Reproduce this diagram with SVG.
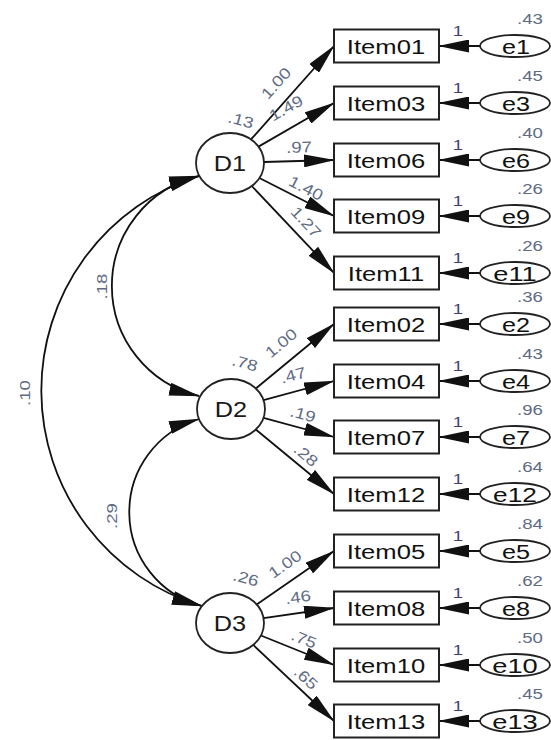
<svg xmlns="http://www.w3.org/2000/svg" width="551" height="740" viewBox="0 0 551 740">
  <defs>
    <marker id="ah" viewBox="0 0 31 13" refX="30" refY="6.5" markerWidth="31" markerHeight="13" markerUnits="userSpaceOnUse" orient="auto-start-reverse">
      <path d="M0,0 L31,6.5 L0,13 z" fill="#111"/>
    </marker>
    <style>
      .edge { fill: none; stroke: #111; stroke-width: 1.8; marker-end: url(#ah); }
      .cov { fill: none; stroke: #111; stroke-width: 1.8; marker-start: url(#ah); marker-end: url(#ah); }
      .box { fill: #fff; stroke: #222; stroke-width: 2; }
      .lat { fill: #fff; stroke: #222; stroke-width: 1.8; }
      .err { fill: #fff; stroke: #222; stroke-width: 1.8; }
      text { font-family: "Liberation Sans", Arial, sans-serif; text-anchor: middle; }
      .name { font-size: 21px; fill: #111; }
      .lname { font-size: 22px; fill: #1a1a1a; }
      .num { font-size: 15.5px; fill: #5f6b85; }
      .one { font-size: 15.5px; fill: #3f3f7a; }
    </style>
  </defs>

  <!-- paths, residual arrows and covariances -->
  <g id="connectors">
    <!-- D1 loadings -->
    <path class="edge" d="M251,139.4 L334,46"/>
    <path class="edge" d="M258.5,146.6 L334,103"/>
    <path class="edge" d="M264,162 L334,160"/>
    <path class="edge" d="M259.4,178 L334,216"/>
    <path class="edge" d="M251.8,186 L334,273"/>
    <!-- D2 loadings -->
    <path class="edge" d="M255.8,388.5 L334,324"/>
    <path class="edge" d="M263.5,400.2 L334,381"/>
    <path class="edge" d="M263.5,417.8 L334,437"/>
    <path class="edge" d="M255.8,429.5 L334,494"/>
    <!-- D3 loadings -->
    <path class="edge" d="M256.7,604.5 L334,551"/>
    <path class="edge" d="M263.6,618.2 L334,608"/>
    <path class="edge" d="M260.9,635.5 L334,665"/>
    <path class="edge" d="M253.2,644.9 L334,721"/>
    <!-- residuals -->
    <path class="edge" d="M480,46 L439,46"/>
    <path class="edge" d="M480,103 L439,103"/>
    <path class="edge" d="M480,160 L439,160"/>
    <path class="edge" d="M480,216 L439,216"/>
    <path class="edge" d="M480,273 L439,273"/>
    <path class="edge" d="M480,324 L439,324"/>
    <path class="edge" d="M480,381 L439,381"/>
    <path class="edge" d="M480,437 L439,437"/>
    <path class="edge" d="M480,494 L439,494"/>
    <path class="edge" d="M480,551 L439,551"/>
    <path class="edge" d="M480,608 L439,608"/>
    <path class="edge" d="M480,665 L439,665"/>
    <path class="edge" d="M480,721 L439,721"/>
    <!-- covariances -->
    <path class="cov" d="M199,176 A113,113 0 0,0 199,396"/>
    <path class="cov" d="M199,419 A97,97 0 0,0 202,606"/>
    <path class="cov" d="M199,176 A224.8,224.8 0 0,0 202,606"/>

    <!-- estimates -->
    <g class="num">
      <text transform="translate(241 120) rotate(15) scale(1.2 1)" y="5.5">.13</text>
      <text transform="translate(276 83) rotate(-48) scale(1.2 1)" y="5.5">1.00</text>
      <text transform="translate(286 108) rotate(-30) scale(1.2 1)" y="5.5">1.49</text>
      <text transform="translate(299 147) rotate(-2) scale(1.2 1)" y="5.5">.97</text>
      <text transform="translate(306 188) rotate(27) scale(1.2 1)" y="5.5">1.40</text>
      <text transform="translate(306 222) rotate(47) scale(1.2 1)" y="5.5">1.27</text>

      <text transform="translate(245 363) rotate(15) scale(1.2 1)" y="5.5">.78</text>
      <text transform="translate(281 343) rotate(-40) scale(1.2 1)" y="5.5">1.00</text>
      <text transform="translate(293 375) rotate(-15) scale(1.2 1)" y="5.5">.47</text>
      <text transform="translate(303 414) rotate(15) scale(1.2 1)" y="5.5">.19</text>
      <text transform="translate(306 455) rotate(40) scale(1.2 1)" y="5.5">.28</text>

      <text transform="translate(246 578) rotate(15) scale(1.2 1)" y="5.5">.26</text>
      <text transform="translate(285 564) rotate(-35) scale(1.2 1)" y="5.5">1.00</text>
      <text transform="translate(298 597) rotate(-8) scale(1.2 1)" y="5.5">.46</text>
      <text transform="translate(304 639) rotate(22) scale(1.2 1)" y="5.5">.75</text>
      <text transform="translate(306 678) rotate(43) scale(1.2 1)" y="5.5">.65</text>

      <text transform="translate(101.5 286.5) rotate(-90) scale(1.2 1)" y="5.5">.18</text>
      <text transform="translate(24 393) rotate(-90) scale(1.2 1)" y="5.5">.10</text>
      <text transform="translate(111 516) rotate(-90) scale(1.2 1)" y="5.5">.29</text>

      <!-- residual variances -->
      <text transform="translate(530 18) scale(1.2 1)" y="5.5">.43</text>
      <text transform="translate(530 75) scale(1.2 1)" y="5.5">.45</text>
      <text transform="translate(530 132) scale(1.2 1)" y="5.5">.40</text>
      <text transform="translate(530 188) scale(1.2 1)" y="5.5">.26</text>
      <text transform="translate(530 245) scale(1.2 1)" y="5.5">.26</text>
      <text transform="translate(530 296) scale(1.2 1)" y="5.5">.36</text>
      <text transform="translate(530 353) scale(1.2 1)" y="5.5">.43</text>
      <text transform="translate(530 409) scale(1.2 1)" y="5.5">.96</text>
      <text transform="translate(530 466) scale(1.2 1)" y="5.5">.64</text>
      <text transform="translate(530 523) scale(1.2 1)" y="5.5">.84</text>
      <text transform="translate(530 580) scale(1.2 1)" y="5.5">.62</text>
      <text transform="translate(530 637) scale(1.2 1)" y="5.5">.50</text>
      <text transform="translate(530 693) scale(1.2 1)" y="5.5">.45</text>
    </g>

    <!-- fixed residual paths -->
    <g class="one">
      <text transform="translate(458 30) scale(1.2 1)" y="5.5">1</text>
      <text transform="translate(458 87) scale(1.2 1)" y="5.5">1</text>
      <text transform="translate(458 144) scale(1.2 1)" y="5.5">1</text>
      <text transform="translate(458 200) scale(1.2 1)" y="5.5">1</text>
      <text transform="translate(458 257) scale(1.2 1)" y="5.5">1</text>
      <text transform="translate(458 308) scale(1.2 1)" y="5.5">1</text>
      <text transform="translate(458 365) scale(1.2 1)" y="5.5">1</text>
      <text transform="translate(458 421) scale(1.2 1)" y="5.5">1</text>
      <text transform="translate(458 478) scale(1.2 1)" y="5.5">1</text>
      <text transform="translate(458 535) scale(1.2 1)" y="5.5">1</text>
      <text transform="translate(458 592) scale(1.2 1)" y="5.5">1</text>
      <text transform="translate(458 649) scale(1.2 1)" y="5.5">1</text>
      <text transform="translate(458 705) scale(1.2 1)" y="5.5">1</text>
    </g>
  </g>

  <!-- latent factors -->
  <g id="D1"><ellipse class="lat" cx="230" cy="163" rx="34" ry="30"/><text class="lname" transform="translate(230 171) scale(1.15 1)">D1</text></g>
  <g id="D2"><ellipse class="lat" cx="231" cy="409" rx="34" ry="30"/><text class="lname" transform="translate(231 417) scale(1.15 1)">D2</text></g>
  <g id="D3"><ellipse class="lat" cx="230" cy="623" rx="34" ry="30"/><text class="lname" transform="translate(230 631) scale(1.15 1)">D3</text></g>

  <!-- observed items -->
  <g id="Item01"><rect class="box" x="334" y="29.5" width="105" height="33"/><text class="name" transform="translate(386 53.5) scale(1.22 1)">Item01</text></g>
  <g id="Item03"><rect class="box" x="334" y="86.5" width="105" height="33"/><text class="name" transform="translate(386 110.5) scale(1.22 1)">Item03</text></g>
  <g id="Item06"><rect class="box" x="334" y="143.5" width="105" height="33"/><text class="name" transform="translate(386 167.5) scale(1.22 1)">Item06</text></g>
  <g id="Item09"><rect class="box" x="334" y="199.5" width="105" height="33"/><text class="name" transform="translate(386 223.5) scale(1.22 1)">Item09</text></g>
  <g id="Item11"><rect class="box" x="334" y="256.5" width="105" height="33"/><text class="name" transform="translate(386 280.5) scale(1.22 1)">Item11</text></g>
  <g id="Item02"><rect class="box" x="334" y="307.5" width="105" height="33"/><text class="name" transform="translate(386 331.5) scale(1.22 1)">Item02</text></g>
  <g id="Item04"><rect class="box" x="334" y="364.5" width="105" height="33"/><text class="name" transform="translate(386 388.5) scale(1.22 1)">Item04</text></g>
  <g id="Item07"><rect class="box" x="334" y="420.5" width="105" height="33"/><text class="name" transform="translate(386 444.5) scale(1.22 1)">Item07</text></g>
  <g id="Item12"><rect class="box" x="334" y="477.5" width="105" height="33"/><text class="name" transform="translate(386 501.5) scale(1.22 1)">Item12</text></g>
  <g id="Item05"><rect class="box" x="334" y="534.5" width="105" height="33"/><text class="name" transform="translate(386 558.5) scale(1.22 1)">Item05</text></g>
  <g id="Item08"><rect class="box" x="334" y="591.5" width="105" height="33"/><text class="name" transform="translate(386 615.5) scale(1.22 1)">Item08</text></g>
  <g id="Item10"><rect class="box" x="334" y="648.5" width="105" height="33"/><text class="name" transform="translate(386 672.5) scale(1.22 1)">Item10</text></g>
  <g id="Item13"><rect class="box" x="334" y="704.5" width="105" height="33"/><text class="name" transform="translate(386 728.5) scale(1.22 1)">Item13</text></g>

  <!-- residual terms -->
  <g id="e1"><ellipse class="err" cx="515" cy="46" rx="35" ry="11"/><text class="name" transform="translate(516 53.5) scale(1.2 1)">e1</text></g>
  <g id="e3"><ellipse class="err" cx="515" cy="103" rx="35" ry="11"/><text class="name" transform="translate(516 110.5) scale(1.2 1)">e3</text></g>
  <g id="e6"><ellipse class="err" cx="515" cy="160" rx="35" ry="11"/><text class="name" transform="translate(516 167.5) scale(1.2 1)">e6</text></g>
  <g id="e9"><ellipse class="err" cx="515" cy="216" rx="35" ry="11"/><text class="name" transform="translate(516 223.5) scale(1.2 1)">e9</text></g>
  <g id="e11"><ellipse class="err" cx="515" cy="273" rx="35" ry="11"/><text class="name" transform="translate(515 280.5) scale(1.3 1)">e11</text></g>
  <g id="e2"><ellipse class="err" cx="515" cy="324" rx="35" ry="11"/><text class="name" transform="translate(516 331.5) scale(1.2 1)">e2</text></g>
  <g id="e4"><ellipse class="err" cx="515" cy="381" rx="35" ry="11"/><text class="name" transform="translate(516 388.5) scale(1.2 1)">e4</text></g>
  <g id="e7"><ellipse class="err" cx="515" cy="437" rx="35" ry="11"/><text class="name" transform="translate(516 444.5) scale(1.2 1)">e7</text></g>
  <g id="e12"><ellipse class="err" cx="515" cy="494" rx="35" ry="11"/><text class="name" transform="translate(515 501.5) scale(1.25 1)">e12</text></g>
  <g id="e5"><ellipse class="err" cx="515" cy="551" rx="35" ry="11"/><text class="name" transform="translate(516 558.5) scale(1.2 1)">e5</text></g>
  <g id="e8"><ellipse class="err" cx="515" cy="608" rx="35" ry="11"/><text class="name" transform="translate(516 615.5) scale(1.2 1)">e8</text></g>
  <g id="e10"><ellipse class="err" cx="515" cy="665" rx="35" ry="11"/><text class="name" transform="translate(515 672.5) scale(1.3 1)">e10</text></g>
  <g id="e13"><ellipse class="err" cx="515" cy="721" rx="35" ry="11"/><text class="name" transform="translate(515 728.5) scale(1.3 1)">e13</text></g>
</svg>
